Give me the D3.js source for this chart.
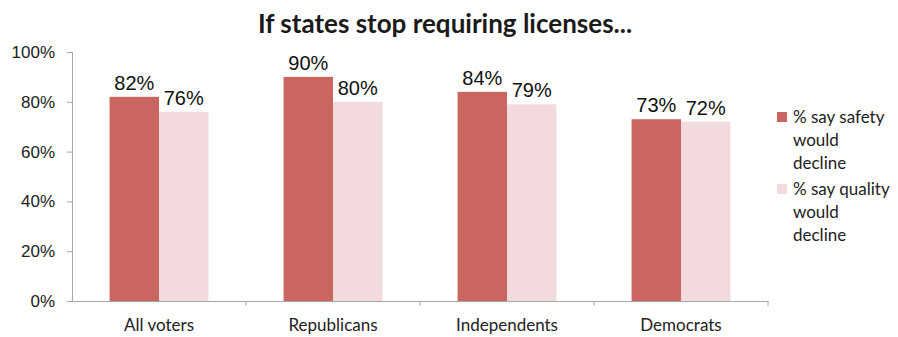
<!DOCTYPE html>
<html>
<head>
<meta charset="utf-8">
<script src="https://cdn.jsdelivr.net/npm/d3@7"></script>
<style>
body{margin:0;background:#fff;}
</style>
</head>
<body>
<script>
// data
var groups = ["All voters", "Republicans", "Independents", "Democrats"];
var safety = [82, 90, 84, 73];
var quality = [76, 80, 79, 72];
var seriesNames = ["% say safety would decline", "% say quality would decline"];
var yTicks = [0, 20, 40, 60, 80, 100];

var W = 898, H = 337;
var mLeft = 72, mRight = 768, mTop = 52, mBottom = 301;
var colSafety = "#c9665f", colQuality = "#f3dadd";

var svg = d3.select("body").append("svg")
    .attr("width", W)
    .attr("height", H);

var x = d3.scaleBand().domain(groups).range([mLeft, mRight]).paddingInner(0).paddingOuter(0);
var y = d3.scaleLinear().domain([0, 100]).range([mBottom, mTop]);
var inner = d3.scaleBand().domain([0, 1]).range([0, x.bandwidth()]).paddingOuter(0.76).paddingInner(0);

//title
svg.append("text")
    .attr("x", 445)
    .attr("y", 33)
    .attr("text-anchor", "middle")
    .style("font-family", "Lato, 'Open Sans', sans-serif")
    .style("font-weight", "bold")
    .style("font-size", "26px")
    .style("fill", "#1a1a1a")
    .text("If states stop requiring licenses...");

//y axis
var yAxis = svg.append("g")
    .attr("transform", "translate(" + mLeft + ",0)")
    .call(d3.axisLeft(y).tickValues(yTicks).tickSize(5).tickPadding(12)
        .tickFormat(function (d) { return d + "%"; }));
yAxis.selectAll("path,line").attr("stroke", "#a6a6a6");
yAxis.selectAll("text")
    .style("font-family", "'Liberation Sans', Arial, sans-serif")
    .style("font-size", "17px")
    .style("fill", "#222");

//x axis
var xAxis = svg.append("g")
    .attr("transform", "translate(0," + mBottom + ")")
    .call(d3.axisBottom(x).tickSize(0).tickPadding(18));
xAxis.select(".domain").attr("stroke", "#a6a6a6");
xAxis.selectAll("text")
    .style("font-family", "Lato, 'Open Sans', sans-serif")
    .style("font-size", "17px")
    .style("fill", "#222");
svg.append("g").selectAll("line")
    .data(groups.slice(1).concat(["end"]))
    .enter().append("line")
    .attr("x1", function (d, i) { return i < 3 ? x(d) : mRight; })
    .attr("x2", function (d, i) { return i < 3 ? x(d) : mRight; })
    .attr("y1", mBottom)
    .attr("y2", mBottom + 5)
    .attr("stroke", "#a6a6a6");

//bars
var rows = groups.map(function (g, i) { return { g: g, v: [safety[i], quality[i]] }; });
var gb = svg.selectAll(".grp")
    .data(rows)
    .enter().append("g")
    .attr("class", "grp")
    .attr("transform", function (d) { return "translate(" + x(d.g) + ",0)"; });

gb.selectAll("rect")
    .data(function (d) { return d.v; })
    .enter().append("rect")
    .attr("x", function (d, i) { return inner(i); })
    .attr("y", function (d) { return y(d); })
    .attr("width", inner.bandwidth())
    .attr("height", function (d) { return mBottom - y(d); })
    .attr("fill", function (d, i) { return i == 0 ? colSafety : colQuality; });

gb.selectAll("text")
    .data(function (d) { return d.v; })
    .enter().append("text")
    .attr("x", function (d, i) { return inner(i) + inner.bandwidth() / 2; })
    .attr("y", function (d) { return y(d) - 7; })
    .attr("text-anchor", "middle")
    .style("font-family", "'Liberation Sans', Arial, sans-serif")
    .style("font-size", "20px")
    .style("fill", "#111")
    .text(function (d) { return d + "%"; });

//legend
var legLines = [["% say safety", "would", "decline"], ["% say quality", "would", "decline"]];
var leg = svg.selectAll(".leg")
    .data(legLines)
    .enter().append("g")
    .attr("class", "leg")
    .attr("transform", function (d, i) { return "translate(777," + (112 + i * 72) + ")"; });
leg.append("rect")
    .attr("width", 10)
    .attr("height", 10)
    .attr("fill", function (d, i) { return i == 0 ? colSafety : colQuality; });
leg.append("text")
    .attr("x", 16)
    .attr("y", 11)
    .style("font-family", "Lato, 'Open Sans', sans-serif")
    .style("font-size", "17px")
    .style("fill", "#222")
    .selectAll("tspan")
    .data(function (d) { return d; })
    .enter().append("tspan")
    .attr("x", 16)
    .attr("dy", function (d, i) { return i == 0 ? 0 : 23; })
    .text(function (d) { return d; });
</script>
</body>
</html>
